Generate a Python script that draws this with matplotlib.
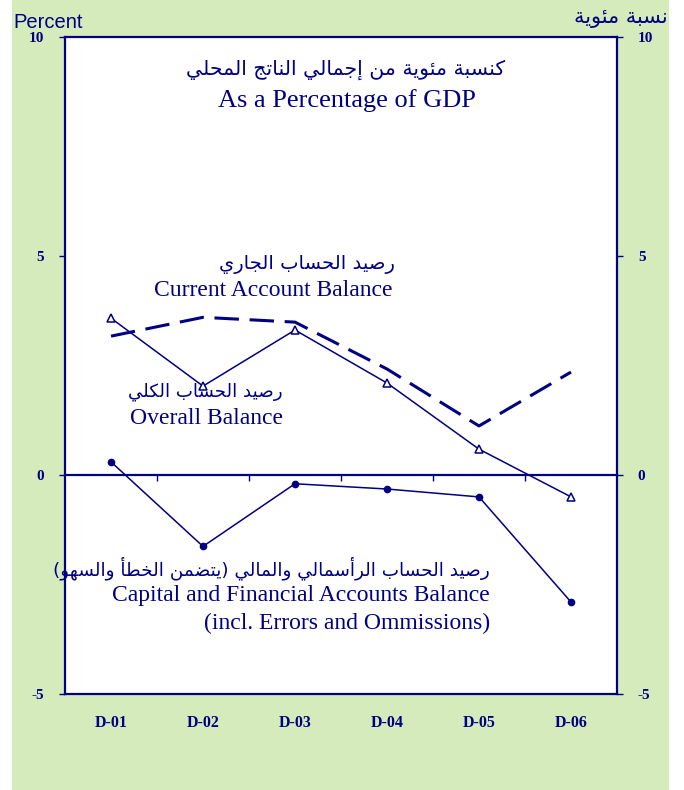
import matplotlib
matplotlib.use("Agg")
import matplotlib.pyplot as plt
from matplotlib.patches import Rectangle

# data (percent of GDP)
years = ["D-01", "D-02", "D-03", "D-04", "D-05", "D-06"]
overall = [3.58, 2.03, 3.31, 2.10, 0.59, -0.50]
current = [3.17, 3.60, 3.49, 2.42, 1.12, 2.35]
capital = [0.30, -1.63, -0.20, -0.32, -0.50, -2.90]
yticks = [-5, 0, 5, 10]

title_ar = "كنسبة مئوية من إجمالي الناتج المحلي"
title_en = "As a Percentage of GDP"
unit_en = "Percent"
unit_ar = "نسبة مئوية"
ca_ar = "رصيد الحساب الجاري"
ca_en = "Current Account Balance"
ob_ar = "رصيد الحساب الكلي"
ob_en = "Overall Balance"
kf_ar = "رصيد الحساب الرأسمالي والمالي (يتضمن الخطأ والسهو)"
kf_en = "Capital and Financial Accounts Balance"
kf_en2 = "(incl. Errors and Ommissions)"

NAVY = "#000080"
GREEN = "#d5ebbc"

# minimal arabic shaping: isolated, final, initial, medial presentation forms
AR = {
    "\u0627": (0xFE8D, 0xFE8E), "\u0623": (0xFE83, 0xFE84), "\u0625": (0xFE87, 0xFE88),
    "\u0626": (0xFE89, 0xFE8A, 0xFE8B, 0xFE8C), "\u0628": (0xFE8F, 0xFE90, 0xFE91, 0xFE92),
    "\u0629": (0xFE93, 0xFE94), "\u062A": (0xFE95, 0xFE96, 0xFE97, 0xFE98),
    "\u062C": (0xFE9D, 0xFE9E, 0xFE9F, 0xFEA0), "\u062D": (0xFEA1, 0xFEA2, 0xFEA3, 0xFEA4),
    "\u062E": (0xFEA5, 0xFEA6, 0xFEA7, 0xFEA8), "\u062F": (0xFEA9, 0xFEAA),
    "\u0631": (0xFEAD, 0xFEAE), "\u0633": (0xFEB1, 0xFEB2, 0xFEB3, 0xFEB4),
    "\u0635": (0xFEB9, 0xFEBA, 0xFEBB, 0xFEBC), "\u0636": (0xFEBD, 0xFEBE, 0xFEBF, 0xFEC0),
    "\u0637": (0xFEC1, 0xFEC2, 0xFEC3, 0xFEC4), "\u0643": (0xFED9, 0xFEDA, 0xFEDB, 0xFEDC),
    "\u0644": (0xFEDD, 0xFEDE, 0xFEDF, 0xFEE0), "\u0645": (0xFEE1, 0xFEE2, 0xFEE3, 0xFEE4),
    "\u0646": (0xFEE5, 0xFEE6, 0xFEE7, 0xFEE8), "\u0647": (0xFEE9, 0xFEEA, 0xFEEB, 0xFEEC),
    "\u0648": (0xFEED, 0xFEEE), "\u064A": (0xFEF1, 0xFEF2, 0xFEF3, 0xFEF4),
}
LAMALEF = {"\u0627": (0xFEFB, 0xFEFC), "\u0623": (0xFEF7, 0xFEF8), "\u0625": (0xFEF9, 0xFEFA)}
MIRROR = {"(": ")", ")": "("}


def shape(s):
    out = []
    i = 0
    while i < len(s):
        c = s[i]
        prev = s[i - 1] if i > 0 else ""
        nxt = s[i + 1] if i + 1 < len(s) else ""
        if c not in AR:
            out.append(MIRROR.get(c, c))
            i += 1
            continue
        jp = prev in AR and len(AR[prev]) == 4
        if c == "\u0644" and nxt in LAMALEF:
            out.append(chr(LAMALEF[nxt][1 if jp else 0]))
            i += 2
            continue
        jn = len(AR[c]) == 4 and nxt in AR
        f = AR[c]
        if jp and jn:
            out.append(chr(f[3]))
        elif jp:
            out.append(chr(f[1]))
        elif jn:
            out.append(chr(f[2]))
        else:
            out.append(chr(f[0]))
        i += 1
    return "".join(out)[::-1]


W, H = 684, 790
fig = plt.figure(figsize=(W / 100, H / 100), dpi=100, facecolor="white")
fig.patches.append(Rectangle((12 / W, 0), 657 / W, 1, transform=fig.transFigure,
                             facecolor=GREEN, edgecolor="none", zorder=-10))

ax = fig.add_axes([65 / W, 1 - 694 / H, 552 / W, 657 / H])
ax.set_facecolor("white")
x = list(range(len(years)))

ax.plot(x, current, color=NAVY, lw=2.2, dashes=(8, 3.5), zorder=3)
ax.plot(x, overall, color=NAVY, lw=1.1, marker="^", ms=5.5, mfc="white", mec=NAVY, mew=1.1, zorder=4)
ax.plot(x, capital, color=NAVY, lw=1.1, marker="o", ms=4.5, mfc=NAVY, mec=NAVY, zorder=4)

ax.set_xlim(-0.5, len(years) - 0.5)
ax.set_ylim(-5, 10)

for s in ["left", "right", "top", "bottom"]:
    ax.spines[s].set_color(NAVY)
    ax.spines[s].set_linewidth(1.6)
ax.spines["bottom"].set_position(("data", 0))
ax.plot([0, 1], [0, 0], transform=ax.transAxes, color=NAVY, lw=1.6, clip_on=False)

ax.set_xticks([i + 0.5 for i in x[:-1]])
ax.tick_params(axis="x", direction="out", length=4, width=1, color=NAVY, labelbottom=False)
ax.set_yticks(yticks)
ax.set_yticklabels([str(v) for v in yticks])
ax.tick_params(axis="y", direction="out", length=4, width=1, color=NAVY, pad=11,
               left=True, right=True, labelleft=True, labelright=True, labelcolor=NAVY)
for lab in ax.get_yticklabels() + ax.yaxis.get_ticklabels(which="major"):
    lab.set_fontfamily("Liberation Serif")
    lab.set_fontweight("bold")
    lab.set_fontsize(11)
for t in ax.yaxis.get_major_ticks():
    t.label2.set_fontfamily("Liberation Serif")
    t.label2.set_fontweight("bold")
    t.label2.set_fontsize(11)

for i, yr in enumerate(years):
    fig.text(ax.transData.transform((i, 0))[0] / W, 1 - 723 / H, yr, ha="center", va="center",
             color=NAVY, fontsize=11.5, fontweight="bold", family="Liberation Serif")


def ftext(px, py, s, **kw):
    fig.text(px / W, 1 - py / H, s, color=NAVY, **kw)


ftext(13, 23, unit_en, ha="left", va="center", fontsize=14.5, family="Liberation Sans")
ftext(668, 18, shape(unit_ar), ha="right", va="center", fontsize=15, family="DejaVu Sans")
ftext(346, 70, shape(title_ar), ha="center", va="center", fontsize=14.7, family="DejaVu Sans")
ftext(347, 101, title_en, ha="center", va="center", fontsize=19, family="Liberation Serif")

ftext(395, 265, shape(ca_ar), ha="right", va="center", fontsize=14, family="DejaVu Sans")
ftext(393, 291, ca_en, ha="right", va="center", fontsize=17, family="Liberation Serif")
ftext(283, 392, shape(ob_ar), ha="right", va="center", fontsize=13.1, family="DejaVu Sans")
ftext(283, 418, ob_en, ha="right", va="center", fontsize=17, family="Liberation Serif")
ftext(490, 568, shape(kf_ar), ha="right", va="center", fontsize=13.2, family="DejaVu Sans")
ftext(490, 595, kf_en, ha="right", va="center", fontsize=17, family="Liberation Serif")
ftext(490, 623, kf_en2, ha="right", va="center", fontsize=17, family="Liberation Serif")

fig.savefig("out.png", dpi=100, facecolor="white")
